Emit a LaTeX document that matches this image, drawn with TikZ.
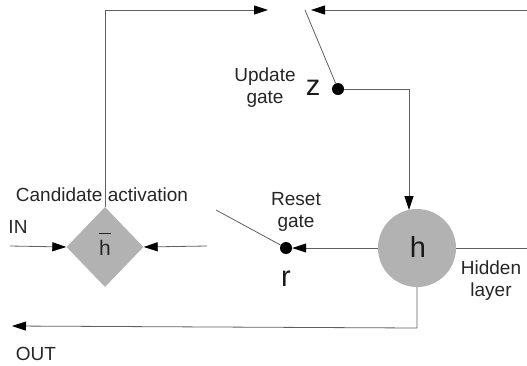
\documentclass[tikz,border=0pt]{standalone}
\usepackage{fontspec}
\setmainfont{Liberation Sans}
\usetikzlibrary{shapes.geometric,arrows.meta}
\definecolor{linegray}{RGB}{95,95,95}
\definecolor{fillgray}{RGB}{178,178,178}
\begin{document}
\begin{tikzpicture}[x=1pt,y=-1pt,
  conn/.style={draw=linegray,line width=0.8pt},
  arr/.style={conn,-{Triangle[length=14pt,width=9pt,color=black]}},
  lbl/.style={font=\fontsize{19}{22}\selectfont,align=center,inner sep=0pt,text=black!85},
  big/.style={font=\fontsize{29}{29}\selectfont,inner sep=0pt,text=black!90},
  dot/.style={circle,fill=black,minimum size=12pt,inner sep=0pt}]
\useasboundingbox (0,0) rectangle (527,365);
% nodes
\node[diamond,fill=fillgray,minimum width=77pt,minimum height=80pt,inner sep=0pt] (cand) at (105,247) {};
\node[font=\fontsize{21}{21}\selectfont,text=black!85,inner sep=0pt] (hb) at (105,248) {h};
\draw[black!85,line width=1pt] (99,233) -- (111,233);
\node[circle,fill=fillgray,minimum size=78pt,inner sep=0pt] (hid) at (417,248) {};
\node[big] at (418,247) {h};
\node[dot] (zdot) at (338,89) {};
\node[dot] (rdot) at (286,248) {};
% coordinates
\coordinate (topL) at (105,10);
\coordinate (tipL) at (268,10);
\coordinate (edgeR) at (527,10);
\coordinate (tipR) at (311,10);
\coordinate (swz) at (305,10);
\coordinate (zc) at (409,89);
\coordinate (hidtop) at (409,210);
\coordinate (outc) at (417,328);
\coordinate (outend) at (12,326);
\coordinate (inL) at (10,246);
\coordinate (inR) at (207,246);
\coordinate (rsw) at (216,210);
\coordinate (hidR) at (527,248);
% connectors
\draw[arr] (cand.north) -- (topL) -- (tipL);
\draw[arr] (edgeR) -- (tipR);
\draw[conn] (swz) -- (zdot);
\draw[arr] (zdot.east) -- (zc) -- (hidtop);
\draw[conn] (rsw) -- (rdot);
\draw[arr] (hid.west) -- (rdot.east);
\draw[conn] (hid.east) -- (hidR);
\draw[arr] (hid.south) -- (outc) -- (outend);
\draw[arr] (inL) -- (cand.west);
\draw[arr] (inR) -- (cand.east);
% labels
\node[lbl] at (265,88) {Update\\gate};
\node[big] at (313,88) {z};
\node[lbl] at (102,195) {Candidate activation};
\node[lbl] at (18,227) {IN};
\node[lbl] at (36,354) {OUT};
\node[lbl] at (296,212) {Reset\\gate};
\node[big] at (286,279) {r};
\node[lbl] at (491,281) {Hidden\\layer};
\end{tikzpicture}
\end{document}
